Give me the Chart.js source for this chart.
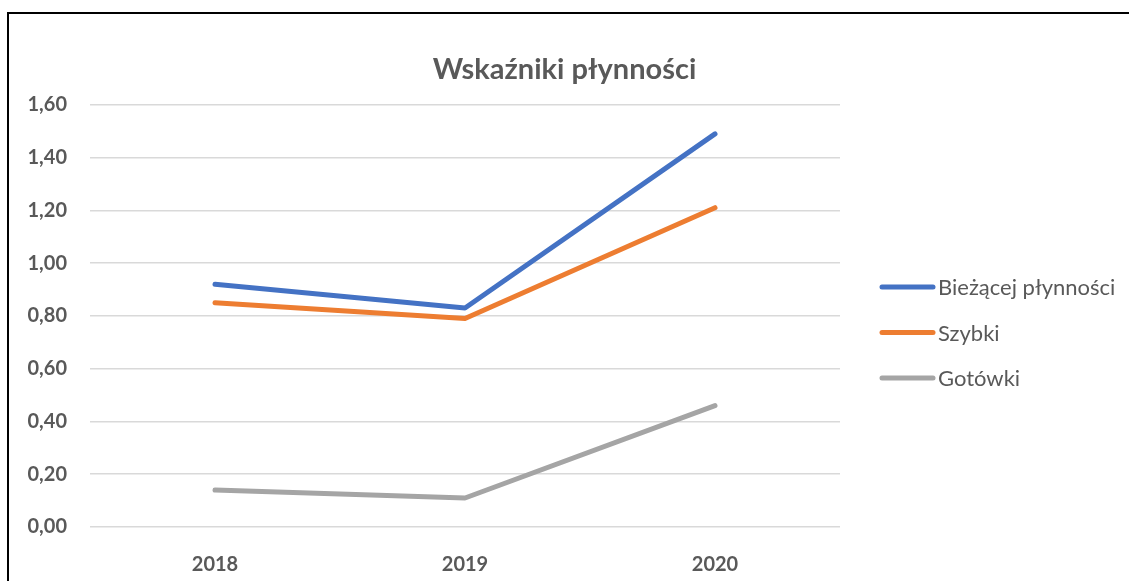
<!DOCTYPE html>
<html>
<head>
<meta charset="utf-8">
<script src="https://cdn.jsdelivr.net/npm/chart.js@4/dist/chart.umd.min.js"></script>
<style>
    body { margin: 0; background: #fff; }
    #wrap { position: relative; width: 1129px; height: 581px; overflow: hidden; }
    #frame { position: absolute; left: 7px; top: 12px; width: 1200px; height: 700px; border-top: 2px solid #000; border-left: 2px solid #000; pointer-events: none; }
    canvas { position: absolute; left: 0; top: 0; }
</style>
</head>
<body>
<div id="wrap">
    <canvas id="chart" width="1129" height="581"></canvas>
    <div id="frame"></div>
</div>
<script>
    const years = ['2018', '2019', '2020'];
    const biezacej = [0.92, 0.83, 1.49];
    const szybki = [0.85, 0.79, 1.21];
    const gotowki = [0.14, 0.11, 0.46];
    const yTicks = [0, 0.2, 0.4, 0.6, 0.8, 1.0, 1.2, 1.4, 1.6];

    const textColor = '#595959';
    const fontName = 'Lato, "Open Sans", sans-serif';

    // legenda rysowana po prawej stronie
    const sideLegend = {
        id: 'sideLegend',
        afterDraw(chart) {
            const ctx = chart.ctx;
            const x0 = chart.chartArea.right + 40;
            ctx.save();
            chart.data.datasets.forEach((ds, i) => {
                const y = 287 + i * 45.5;
                ctx.strokeStyle = ds.borderColor;
                ctx.lineWidth = 5;
                ctx.lineCap = 'round';
                ctx.beginPath();
                ctx.moveTo(x0 + 2, y);
                ctx.lineTo(x0 + 53, y);
                ctx.stroke();
                ctx.fillStyle = textColor;
                ctx.font = '22px ' + fontName;
                ctx.textBaseline = 'middle';
                ctx.fillText(ds.label, x0 + 58, y + 1);
            });
            ctx.restore();
        }
    };

    function makeSet(label, data, color) {
        return {
            label: label, data: data, borderColor: color, backgroundColor: color,
            borderWidth: 5, pointRadius: 0, tension: 0,
            borderCapStyle: 'round', borderJoinStyle: 'round'
        };
    }

    new Chart(document.getElementById('chart'), {
        type: 'line',
        data: {
            labels: years,
            datasets: [
                makeSet('Bieżącej płynności', biezacej, '#4472C4'),
                makeSet('Szybki', szybki, '#ED7D31'),
                makeSet('Gotówki', gotowki, '#A5A5A5')
            ]
        },
        options: {
            responsive: false,
            devicePixelRatio: 1,
            animation: false,
            layout: { padding: 0 },
            plugins: {
                legend: { display: false },
                tooltip: { enabled: false },
                title: {
                    display: true,
                    text: 'Wskaźniki płynności',
                    color: textColor,
                    font: { family: fontName, size: 29, weight: 'bold' },
                    padding: { top: 52, bottom: 18 }
                }
            },
            scales: {
                x: {
                    offset: true,
                    grid: { display: false },
                    border: { display: false },
                    ticks: { color: textColor, font: { family: fontName, size: 20, weight: 'bold' }, padding: 18 },
                    afterFit: s => { s.height = 54; }
                },
                y: {
                    min: 0, max: 1.6,
                    afterBuildTicks: s => { s.ticks = yTicks.map(v => ({ value: v })); },
                    ticks: {
                        color: textColor,
                        font: { family: fontName, size: 20, weight: 'bold' },
                        padding: 23,
                        callback: v => v.toFixed(2).replace('.', ',')
                    },
                    grid: { color: '#d9d9d9', lineWidth: 1.5, drawTicks: false },
                    border: { display: false },
                    afterFit: s => { s.width = 90; }
                },
                // pusta oś: miejsce na legendę po prawej
                side: {
                    type: 'linear',
                    position: 'right',
                    grid: { display: false },
                    border: { display: false },
                    ticks: { display: false },
                    afterFit: s => { s.width = 289; }
                }
            }
        },
        plugins: [sideLegend]
    });
</script>
</body>
</html>
